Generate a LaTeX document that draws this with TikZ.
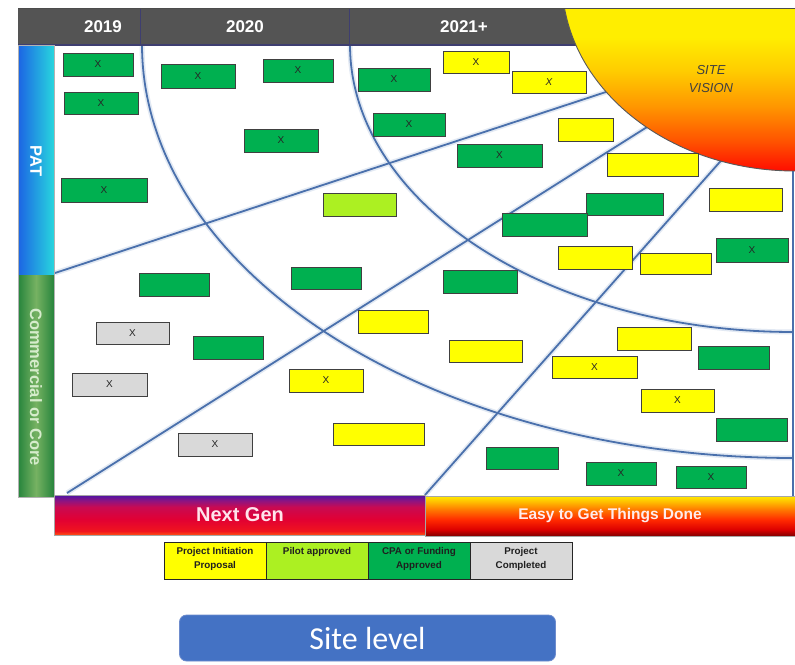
\documentclass[tikz,border=0pt]{standalone}
\usepackage{fontspec}
\setmainfont{Liberation Sans}
\newfontfamily\btnfont{Carlito}
\usetikzlibrary{positioning}

\definecolor{hdr}{RGB}{84,84,84}
\definecolor{hdrline}{RGB}{62,62,112}
\definecolor{lineblue}{RGB}{74,112,172}
\definecolor{glow}{RGB}{226,233,243}
\definecolor{gfill}{RGB}{0,176,80}
\definecolor{yfill}{RGB}{255,255,0}
\definecolor{lgfill}{RGB}{172,240,34}
\definecolor{grfill}{RGB}{217,217,217}
\definecolor{bdr}{RGB}{64,64,64}
\definecolor{btn}{RGB}{68,114,196}
\definecolor{btnedge}{RGB}{110,140,205}
\definecolor{patL}{RGB}{28,100,228}
\definecolor{patR}{RGB}{40,214,222}
\definecolor{comE}{RGB}{38,132,60}
\definecolor{comM}{RGB}{118,178,98}
\definecolor{comtext}{RGB}{214,236,204}

% bottom bar and vision colours
\definecolor{ngA}{RGB}{255,80,20}
\definecolor{ngB}{RGB}{240,20,30}
\definecolor{ngC}{RGB}{225,0,52}
\definecolor{ngD}{RGB}{200,10,82}
\definecolor{ngE}{RGB}{140,20,130}
\definecolor{ngF}{RGB}{75,20,165}
\definecolor{ezA}{RGB}{130,0,0}
\definecolor{ezB}{RGB}{220,0,0}
\definecolor{ezC}{RGB}{255,40,0}
\definecolor{ezD}{RGB}{255,120,0}
\definecolor{ezE}{RGB}{255,190,0}
\definecolor{ezF}{RGB}{255,235,0}
\definecolor{svA}{RGB}{255,10,0}
\definecolor{svB}{RGB}{255,80,0}
\definecolor{svC}{RGB}{255,150,0}
\definecolor{svD}{RGB}{255,205,0}
\definecolor{svE}{RGB}{255,238,0}

\pgfdeclareverticalshading{nextgenfill}{100bp}{color(0bp)=(ngA); color(25bp)=(ngA); color(30bp)=(ngB); color(45bp)=(ngC); color(60bp)=(ngD); color(68bp)=(ngE); color(75bp)=(ngF); color(100bp)=(ngF)}
\pgfdeclareverticalshading{easyfill}{100bp}{color(0bp)=(ezA); color(25bp)=(ezA); color(33bp)=(ezB); color(45bp)=(ezC); color(58bp)=(ezD); color(68bp)=(ezE); color(75bp)=(ezF); color(100bp)=(ezF)}
\pgfdeclareverticalshading{visionfill}{100bp}{color(0bp)=(svA); color(25bp)=(svA); color(34bp)=(svB); color(45bp)=(svC); color(56bp)=(svD); color(66bp)=(svE); color(100bp)=(svE)}

% status box: name, style, x1, y1, x2, y2, text
\newcommand\statbox[7]{%
  \node[#2, anchor=north west, minimum width={(#5)-(#3)}, minimum height={(#6)-(#4)}] (#1) at (#3,#4) {#7};}

\begin{document}
\begin{tikzpicture}[x=1pt, y=-1pt,
  halo/.style={draw=glow, line width=5pt},
  sep/.style={draw=lineblue, line width=1.8pt},
  stat/.style={draw=bdr, line width=1pt, inner sep=0pt, outer sep=0pt,
    font=\fontsize{10}{12}\selectfont, text=black!85},
  gbox/.style={stat, fill=gfill},
  ybox/.style={stat, fill=yfill},
  lgbox/.style={stat, fill=lgfill},
  grbox/.style={stat, fill=grfill},
  hdrtext/.style={text=white, font=\bfseries\fontsize{17}{20}\selectfont},
  sidetext/.style={rotate=-90, font=\bfseries\fontsize{16.5}{19}\selectfont},
  legbox/.style={draw=black!85, line width=1pt, anchor=north west, minimum height=37, inner sep=0pt, outer sep=0pt},
  legtext/.style={align=center, inner sep=0pt, text=black!88,
    font=\bfseries\fontsize{9.8}{14.5}\selectfont}
]
\useasboundingbox (0,0) rectangle (795,664);
\fill[white] (0,0) rectangle (795,664);

% ---- dividing curves and lines of the chart area
\foreach \st in {halo,sep}{
  \draw[\st] plot[domain=0:90, samples=90] ({793-651*cos(\x)},{45+413*sin(\x)});
  \draw[\st] plot[domain=0:90, samples=90] ({793-443*cos(\x)},{45+287*sin(\x)});
  \draw[\st] (55,273) -- (612,90);
  \draw[\st] (67,493) -- (655,122);
  \draw[\st] (425,495) -- (726,155);
}
\draw[sep] (793,170) -- (793,496);

% ---- header row
\fill[hdr] (18,8) rectangle (795,45);
\draw[hdrline, line width=1.2pt] (18,45) -- (795,45);
\draw[hdrline, line width=1pt] (140,8) -- (140,45) (349,8) -- (349,45);
\draw[black!70, line width=1pt] (18,8) -- (795,8);
\node[hdrtext] (h2019) at (103,27) {2019};
\node[hdrtext] (h2020) at (245,27) {2020};
\node[hdrtext] (h2021) at (464,27) {2021+};

% ---- site vision
\begin{scope}
  \clip (18,8) rectangle (795,664);
  \begin{scope}
    \clip (795,-20) ellipse [x radius=233, y radius=191];
    \shade[shading=visionfill] (555,8) rectangle (795,172);
  \end{scope}
  \draw[black!65, line width=0.9pt] (795,-20) ellipse [x radius=233, y radius=191];
\end{scope}
\draw[black!70, line width=1pt] (560,8) -- (795,8);
\node[align=center, text=black!75, font=\itshape\fontsize{13}{18}\selectfont] (vision) at (711,79) {SITE\\VISION};

% ---- status boxes
\statbox{g1}{gbox}{63}{53}{133}{76}{X}
\statbox{g2}{gbox}{64}{92}{138}{114}{X}
\statbox{g3}{gbox}{161}{64}{235}{88}{X}
\statbox{g4}{gbox}{263}{59}{333}{82}{X}
\statbox{g5}{gbox}{358}{68}{430}{91}{X}
\statbox{g6}{gbox}{61}{178}{147}{202}{X}
\statbox{g7}{gbox}{244}{129}{318}{152}{X}
\statbox{g8}{gbox}{373}{113}{445}{136}{X}
\statbox{g9}{gbox}{457}{144}{542}{167}{X}
\statbox{g10}{gbox}{586}{193}{663}{215}{}
\statbox{g11}{gbox}{502}{213}{587}{236}{}
\statbox{g12}{gbox}{716}{238}{788}{262}{X}
\statbox{g13}{gbox}{443}{270}{517}{293}{}
\statbox{g14}{gbox}{291}{267}{361}{289}{}
\statbox{g15}{gbox}{139}{273}{209}{296}{}
\statbox{g16}{gbox}{193}{336}{263}{359}{}
\statbox{g17}{gbox}{698}{346}{769}{369}{}
\statbox{g18}{gbox}{716}{418}{787}{441}{}
\statbox{g19}{gbox}{486}{447}{558}{469}{}
\statbox{g20}{gbox}{586}{462}{656}{485}{X}
\statbox{g21}{gbox}{676}{466}{746}{488}{X}

\statbox{y1}{ybox}{443}{51}{509}{73}{X}
\statbox{y2}{ybox}{512}{71}{586}{93}{\itshape X}
\statbox{y3}{ybox}{558}{118}{613}{141}{}
\statbox{y4}{ybox}{607}{153}{698}{176}{}
\statbox{y5}{ybox}{709}{188}{782}{211}{}
\statbox{y6}{ybox}{558}{246}{632}{269}{}
\statbox{y7}{ybox}{640}{253}{711}{274}{}
\statbox{y8}{ybox}{358}{310}{428}{333}{}
\statbox{y9}{ybox}{289}{369}{363}{392}{X}
\statbox{y10}{ybox}{333}{423}{424}{445}{}
\statbox{y11}{ybox}{449}{340}{522}{362}{}
\statbox{y12}{ybox}{617}{327}{691}{350}{}
\statbox{y13}{ybox}{552}{356}{637}{378}{X}
\statbox{y14}{ybox}{641}{389}{714}{412}{X}

\statbox{lg1}{lgbox}{323}{193}{396}{216}{}

\statbox{r1}{grbox}{96}{322}{169}{344}{X}
\statbox{r2}{grbox}{72}{373}{147}{396}{X}
\statbox{r3}{grbox}{178}{433}{252}{456}{X}

% ---- side labels
\shade[left color=patL, right color=patR] (18,45) rectangle (54,275);
\shade[left color=comE, right color=comE, middle color=comM] (18,275) rectangle (54,497);
\draw[black!30, line width=0.6pt] (18,45) rectangle (54,497);
\node[sidetext, text=white] (pat) at (36,161) {PAT};
\node[sidetext, text=comtext] (core) at (36,387) {Commercial or Core};

% ---- bottom bars
\shade[shading=nextgenfill] (54,495) rectangle (425,535);
\shade[shading=easyfill] (425,496) rectangle (795,536);
\draw[black!35, line width=0.6pt] (54,495) rectangle (425,535) (425,496) rectangle (795,536);
\node[text={rgb,255:red,255;green,228;blue,236}, font=\bfseries\fontsize{20}{24}\selectfont] (nextgen) at (240,515) {Next Gen};
\node[text={rgb,255:red,255;green,236;blue,236}, font=\bfseries\fontsize{15.5}{18}\selectfont] (easy) at (610,516) {Easy to Get Things Done};

% ---- legend
\node[legbox, fill=yfill, minimum width=102] (leg1) at (164,542) {};
\node[legbox, fill=lgfill, minimum width=102] (leg2) at (266,542) {};
\node[legbox, fill=gfill, minimum width=102] (leg3) at (368,542) {};
\node[legbox, fill=grfill, minimum width=102] (leg4) at (470,542) {};
\node[legtext, below=5pt of leg1.north] (leg1t) {Project Initiation\\Proposal};
\node[legtext, below=5pt of leg2.north] (leg2t) {Pilot approved};
\node[legtext, below=5pt of leg3.north] (leg3t) {CPA or Funding\\Approved};
\node[legtext, below=5pt of leg4.north] (leg4t) {Project\\Completed};

% ---- level button
\node[fill=btn, draw=btnedge, line width=0.8pt, rounded corners=7pt,
      minimum width=376, minimum height=46, inner sep=0pt,
      text=white, font=\btnfont\fontsize{32}{36}\selectfont] (site) at (367.5,638) {Site level};
\end{tikzpicture}
\end{document}
